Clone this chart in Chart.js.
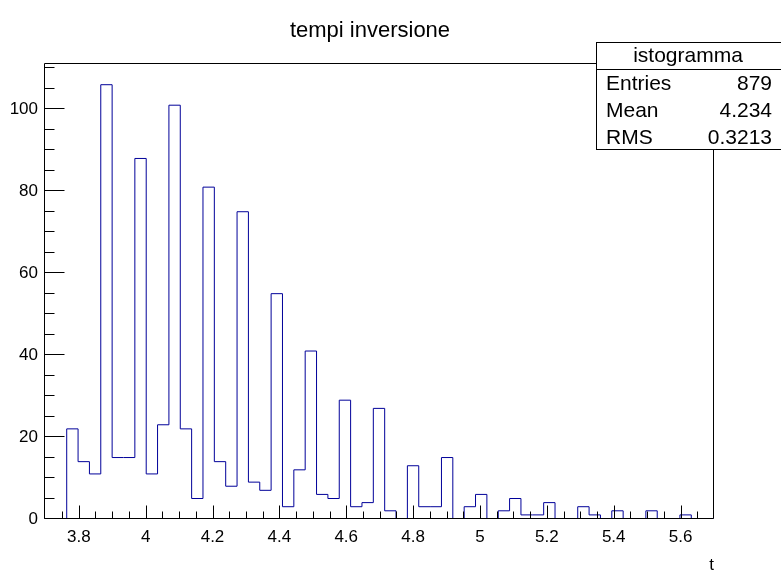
<!DOCTYPE html>
<html>
<head>
<meta charset="utf-8">
<script src="https://cdn.jsdelivr.net/npm/chart.js@4.4.1/dist/chart.umd.min.js"></script>
<style>
  html, body { margin: 0; padding: 0; background: #fff; }
  #wrap { width: 781px; height: 576px; }
</style>
</head>
<body>
<div id="wrap"><canvas id="hist" width="781" height="576"></canvas></div>
<script>
const chartTitle = 'tempi inversione';
const xTitle = 't';

// histogram range and bin contents (59 bins)
const xMin = 3.696;
const xMax = 5.700;
const counts = [0, 0, 22, 14, 11, 106, 15, 15, 88, 11, 23, 101, 22, 5, 81, 14, 8, 75, 9, 7,
                55, 3, 12, 41, 6, 5, 29, 3, 4, 27, 2, 0, 13, 3, 3, 15, 0, 3, 6, 0,
                2, 5, 1, 1, 4, 0, 0, 3, 1, 0, 2, 0, 0, 2, 0, 0, 1, 0, 0];

const xMajorTicks = [3.8, 4.0, 4.2, 4.4, 4.6, 4.8, 5.0, 5.2, 5.4, 5.6];
const xMinorTicks = [3.75, 3.85, 3.9, 3.95, 4.05, 4.1, 4.15, 4.25, 4.3, 4.35, 4.45, 4.5, 4.55,
                     4.65, 4.7, 4.75, 4.85, 4.9, 4.95, 5.05, 5.1, 5.15, 5.25, 5.3, 5.35,
                     5.45, 5.5, 5.55, 5.65];
const yMax = 111.3;
const yMajorTicks = [0, 20, 40, 60, 80, 100];
const yMinorTicks = [5, 10, 15, 25, 30, 35, 45, 50, 55, 65, 70, 75, 85, 90, 95, 105, 110];

const statsName = 'istogramma';
const statsLabels = ['Entries', 'Mean', 'RMS'];
const statsValues = ['879', '4.234', '0.3213'];

const FONT = "'Liberation Sans', Arial, Helvetica, sans-serif";

const binWidth = (xMax - xMin) / counts.length;
const steps = counts.map((c, i) => ({ x: xMin + i * binWidth, y: c }));
steps.push({ x: xMax, y: 0 });

// ROOT style frame, inward ticks, title and stats box
const rootDecor = {
    id: 'rootDecor',
    afterDatasetsDraw(chart) {
        const { ctx, chartArea: a, scales: { x, y } } = chart;
        ctx.save();
        ctx.strokeStyle = '#000';
        ctx.lineWidth = 1;
        ctx.beginPath();
        ctx.rect(a.left + 0.5, a.top + 0.5, a.right - a.left - 1, a.bottom - a.top - 1);
        const b = a.bottom - 0.5;
        xMajorTicks.forEach(v => { const px = Math.round(x.getPixelForValue(v)) + 0.5; ctx.moveTo(px, b); ctx.lineTo(px, b - 13); });
        xMinorTicks.forEach(v => { const px = Math.round(x.getPixelForValue(v)) + 0.5; ctx.moveTo(px, b); ctx.lineTo(px, b - 7); });
        const l = a.left + 0.5;
        yMajorTicks.forEach(v => { const py = Math.round(y.getPixelForValue(v)) - 0.5; ctx.moveTo(l, py); ctx.lineTo(l + 20, py); });
        yMinorTicks.forEach(v => { const py = Math.round(y.getPixelForValue(v)) - 0.5; ctx.moveTo(l, py); ctx.lineTo(l + 10, py); });
        ctx.stroke();
        ctx.restore();
    },
    afterDraw(chart) {
        const { ctx } = chart;
        ctx.save();
        ctx.fillStyle = '#000';
        ctx.font = `22px ${FONT}`;
        ctx.textAlign = 'center';
        ctx.textBaseline = 'alphabetic';
        ctx.fillText(chartTitle, 370, 37);

        // stats box
        const bx = 596.5, by = 42.5, bw = 200, bh = 107;
        ctx.fillStyle = '#fff';
        ctx.fillRect(bx, by, bw, bh);
        ctx.strokeStyle = '#000';
        ctx.lineWidth = 1;
        ctx.strokeRect(bx, by, bw, bh);
        ctx.beginPath();
        ctx.moveTo(bx, 69.5); ctx.lineTo(bx + bw, 69.5);
        ctx.stroke();
        ctx.fillStyle = '#000';
        ctx.font = `21px ${FONT}`;
        ctx.textBaseline = 'middle';
        ctx.textAlign = 'center';
        ctx.fillText(statsName, 688, 56);
        const rowsY = [84, 111, 138];
        statsLabels.forEach((s, i) => {
            ctx.textAlign = 'left';
            ctx.fillText(s, 606, rowsY[i]);
            ctx.textAlign = 'right';
            ctx.fillText(statsValues[i], 772, rowsY[i]);
        });
        ctx.restore();
    }
};

new Chart(document.getElementById('hist'), {
    type: 'line',
    data: {
        datasets: [{
            data: steps,
            stepped: 'before',
            borderColor: '#000099',
            borderWidth: 1,
            pointRadius: 0,
            fill: false
        }]
    },
    options: {
        responsive: false,
        animation: false,
        layout: { padding: { top: 63, right: 67, left: 0, bottom: 0 } },
        plugins: { legend: { display: false }, tooltip: { enabled: false }, title: { display: false } },
        scales: {
            x: {
                type: 'linear', min: xMin, max: xMax,
                afterBuildTicks: s => { s.ticks = xMajorTicks.map(v => ({ value: v })); },
                afterFit: s => { s.height = 57; },
                grid: { display: false, drawTicks: false },
                border: { display: false },
                ticks: { color: '#000', font: { family: FONT, size: 17 }, padding: 8, maxRotation: 0, autoSkip: false,
                         callback: v => String(+v.toFixed(2)) },
                title: { display: true, text: xTitle, align: 'end', color: '#000', font: { family: FONT, size: 17 }, padding: 0 }
            },
            y: {
                type: 'linear', min: 0, max: yMax,
                afterBuildTicks: s => { s.ticks = yMajorTicks.map(v => ({ value: v })); },
                afterFit: s => { s.width = 44; },
                grid: { display: false, drawTicks: false },
                border: { display: false },
                ticks: { color: '#000', font: { family: FONT, size: 17 }, padding: 6, autoSkip: false }
            }
        }
    },
    plugins: [rootDecor]
});
</script>
</body>
</html>
